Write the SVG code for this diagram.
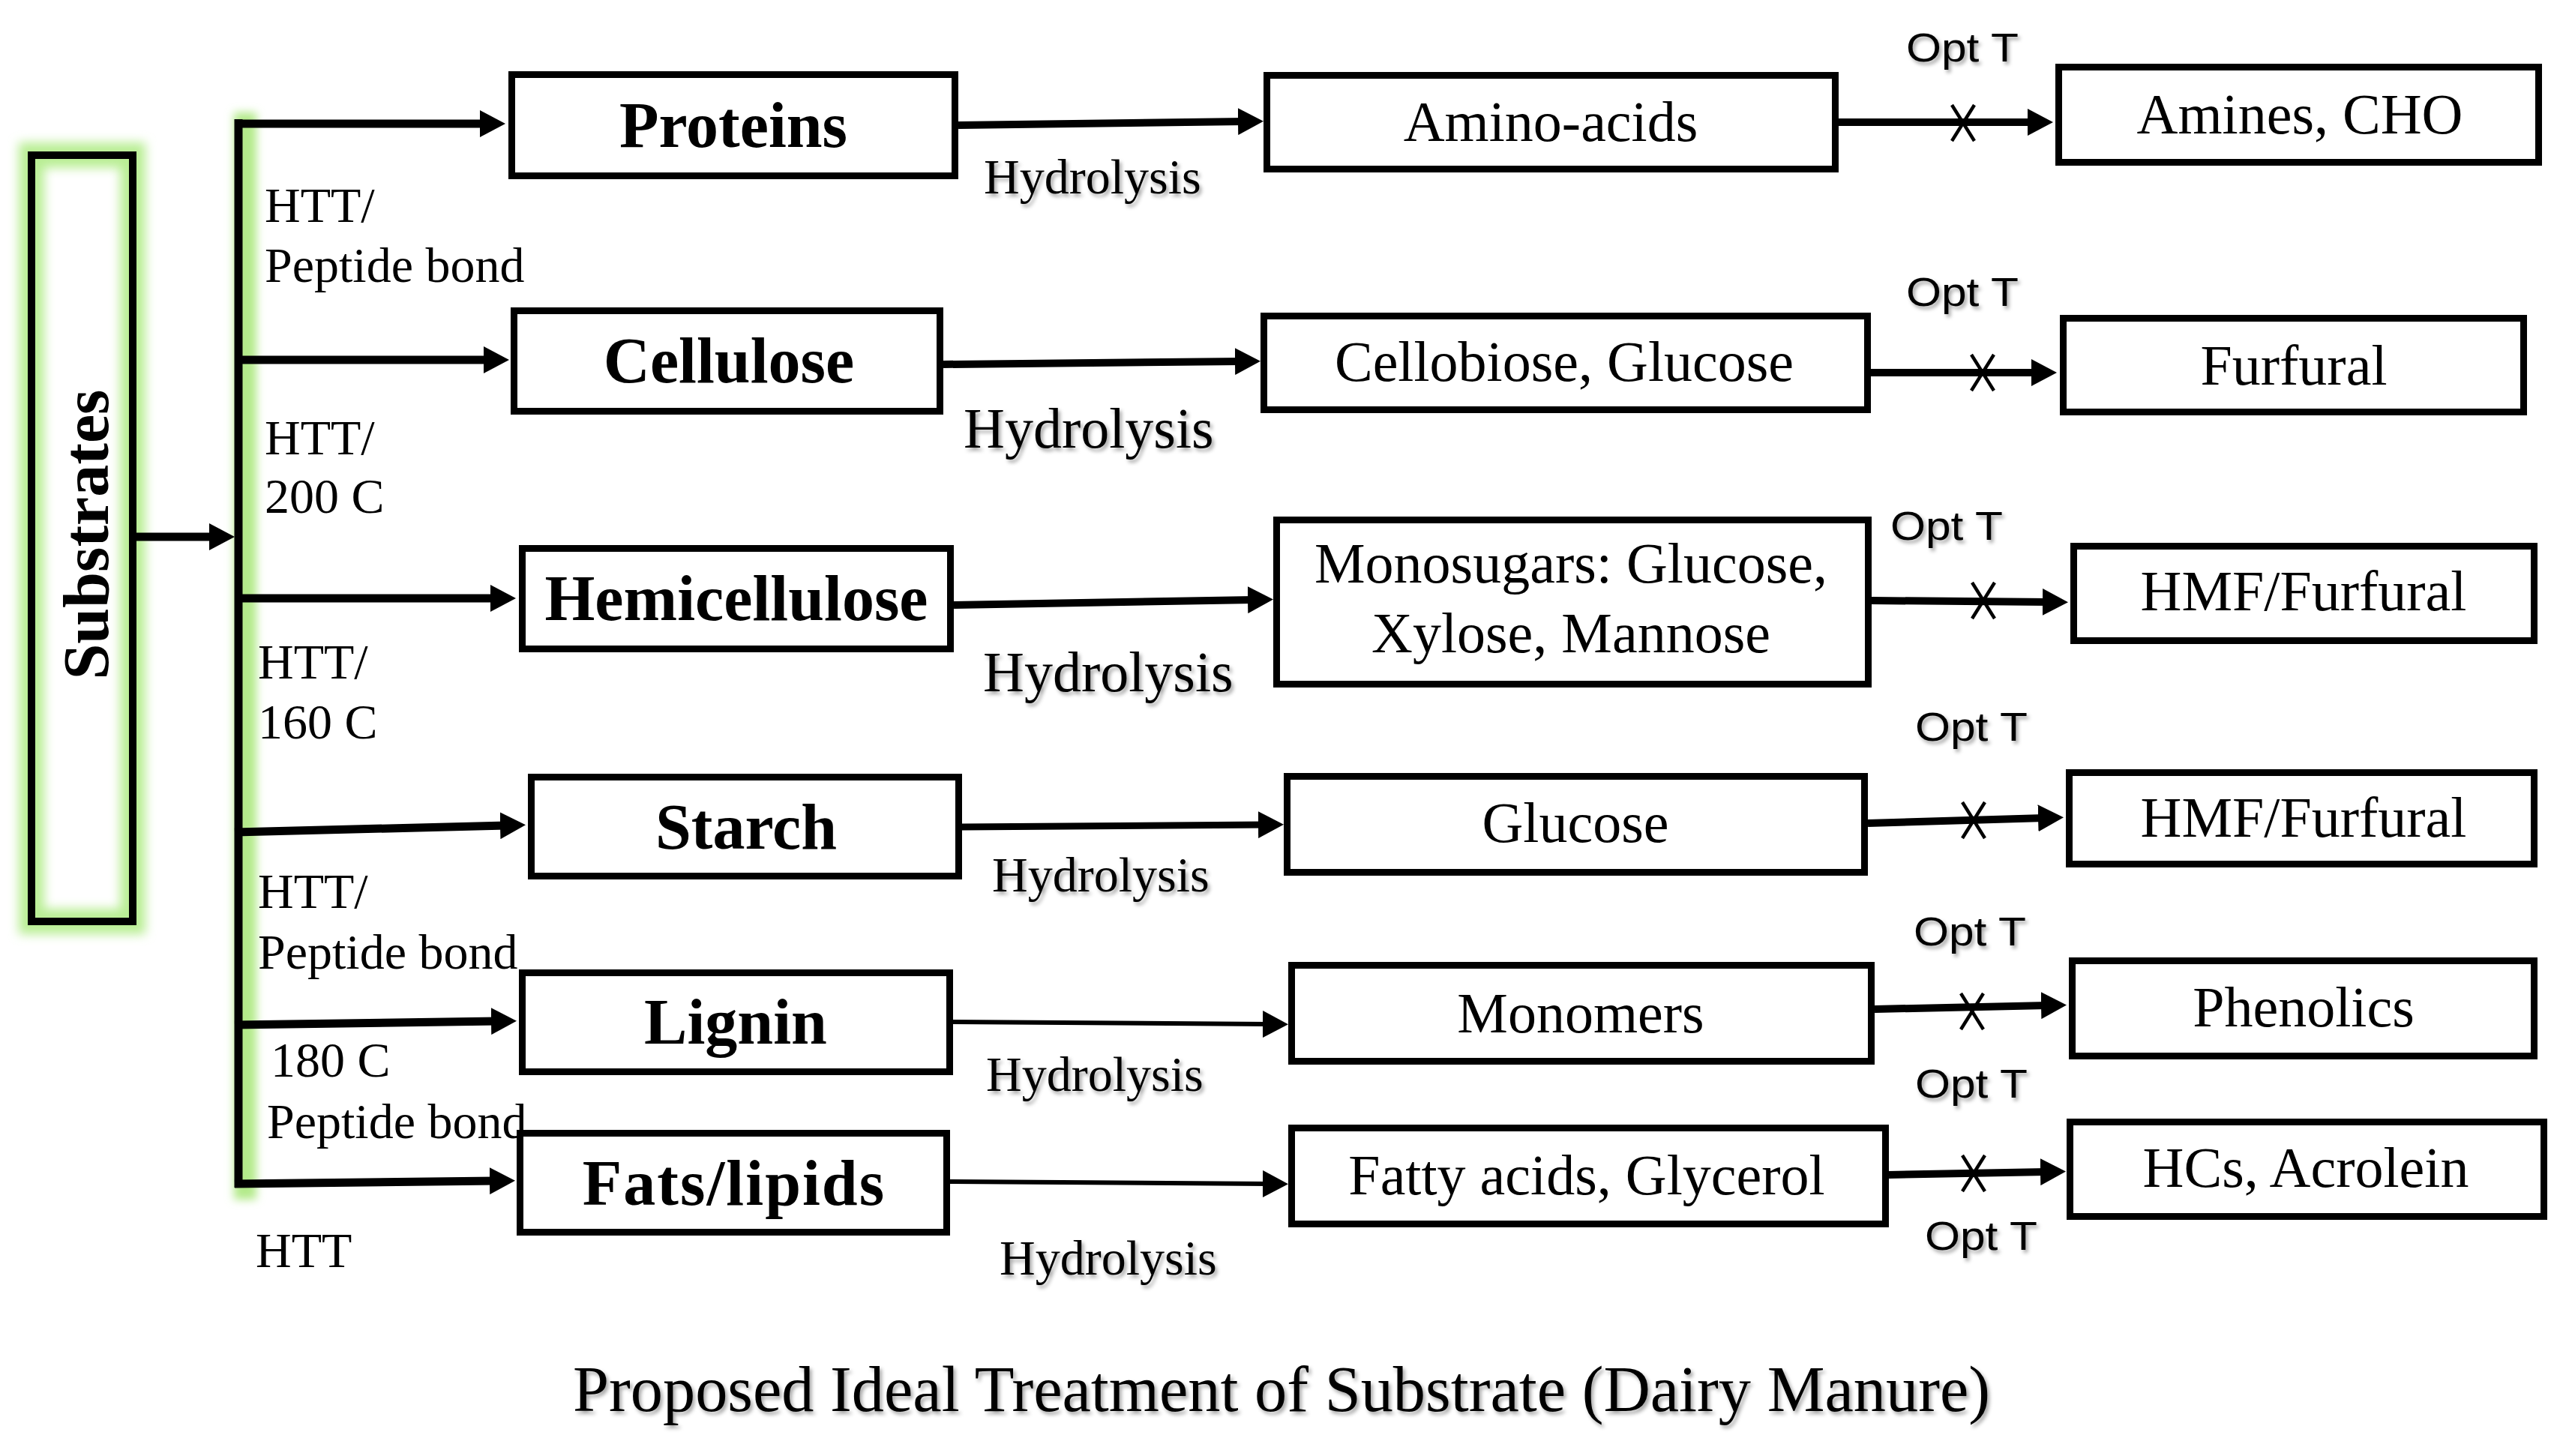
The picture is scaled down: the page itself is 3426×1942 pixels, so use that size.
<svg xmlns="http://www.w3.org/2000/svg" width="3426" height="1942" viewBox="0 0 3426 1942">
<style>
.box{fill:#fff;stroke:#000;stroke-width:9;stroke-linejoin:miter}
.sub{font-family:"Liberation Serif","Times New Roman",serif;font-weight:bold;font-size:86px;text-anchor:middle;fill:#000}
.mid{font-family:"Liberation Serif","Times New Roman",serif;font-size:76px;text-anchor:middle;fill:#000}
.lab{font-family:"Liberation Serif","Times New Roman",serif;font-size:66px;fill:#000}
.hyd{font-family:"Liberation Serif","Times New Roman",serif;fill:#000;filter:url(#sh)}
.opt{font-family:"Liberation Sans",Arial,sans-serif;font-size:54px;fill:#000;filter:url(#sh)}
.ln{stroke:#000;fill:none;marker-end:url(#ah)}
.xm{stroke:#000;stroke-width:4.5;fill:none}
</style>
<defs>
<marker id="ah" markerUnits="userSpaceOnUse" markerWidth="34" markerHeight="36" refX="8" refY="18" orient="auto" viewBox="0 0 34 36">
<path d="M0,0 L34,18 L0,36 z" fill="#000"/>
</marker>
<filter id="sh" x="-10%" y="-30%" width="130%" height="170%">
<feDropShadow dx="3" dy="4" stdDeviation="2.5" flood-color="#000" flood-opacity="0.35"/>
</filter>
<filter id="glow" x="-60%" y="-10%" width="220%" height="120%">
<feGaussianBlur stdDeviation="7"/>
</filter>
<filter id="glow2" filterUnits="userSpaceOnUse" x="260" y="120" width="140" height="1510">
<feGaussianBlur stdDeviation="6"/>
</filter>
</defs>
<rect width="3426" height="1942" fill="#fff"/>

<g id="substrates">
<rect x="42" y="207" width="135" height="1022" fill="none" stroke="#b9ee94" stroke-width="34" filter="url(#glow)"/>
<rect x="42" y="207" width="135" height="1022" fill="none" stroke="#000" stroke-width="10"/>
<text class="sub" font-size="88" transform="translate(144,713) rotate(-90)" x="0" y="0">Substrates</text>
</g>

<g id="connectors">
<rect x="312" y="150" width="30" height="1450" fill="#b3ea8a" filter="url(#glow2)"/>
<line x1="318" y1="159" x2="318" y2="1584" stroke="#000" stroke-width="11"/>
<line class="ln" x1="182" y1="716" x2="287" y2="716" stroke-width="11"/>
<line class="ln" x1="313" y1="165" x2="648" y2="165" stroke-width="11"/>
<line class="ln" x1="313" y1="480" x2="653" y2="480" stroke-width="11"/>
<line class="ln" x1="313" y1="798" x2="662" y2="798" stroke-width="11"/>
<line class="ln" x1="313" y1="1110" x2="675" y2="1101" stroke-width="11"/>
<line class="ln" x1="313" y1="1367" x2="663" y2="1362" stroke-width="11"/>
<line class="ln" x1="313" y1="1579" x2="661" y2="1575" stroke-width="11"/>

<line class="ln" x1="1278" y1="167" x2="1659" y2="162" stroke-width="10"/>
<line class="ln" x1="1258" y1="486" x2="1655" y2="482" stroke-width="10"/>
<line class="ln" x1="1272" y1="807" x2="1672" y2="800" stroke-width="10"/>
<line class="ln" x1="1283" y1="1103" x2="1686" y2="1100" stroke-width="9"/>
<line class="ln" x1="1271" y1="1363" x2="1692" y2="1366" stroke-width="6"/>
<line class="ln" x1="1267" y1="1576" x2="1692" y2="1579" stroke-width="6"/>

<line class="ln" x1="2452" y1="163" x2="2712" y2="163" stroke-width="10"/>
<line class="ln" x1="2495" y1="497" x2="2717" y2="497" stroke-width="10"/>
<line class="ln" x1="2496" y1="801" x2="2732" y2="803" stroke-width="10"/>
<line class="ln" x1="2491" y1="1098" x2="2726" y2="1091" stroke-width="10"/>
<line class="ln" x1="2500" y1="1346" x2="2730" y2="1341" stroke-width="10"/>
<line class="ln" x1="2519" y1="1567" x2="2729" y2="1563" stroke-width="10"/>

<path class="xm" d="M2603,140 L2633,188 M2633,140 L2603,188"/>
<path class="xm" d="M2629,473 L2659,521 M2659,473 L2629,521"/>
<path class="xm" d="M2630,777 L2660,825 M2660,777 L2630,825"/>
<path class="xm" d="M2617,1070 L2647,1118 M2647,1070 L2617,1118"/>
<path class="xm" d="M2615,1325 L2645,1373 M2645,1325 L2615,1373"/>
<path class="xm" d="M2617,1541 L2647,1589 M2647,1541 L2617,1589"/>
</g>

<g id="labels">
<text class="lab" x="353" y="296">HTT/</text>
<text class="lab" x="353" y="376">Peptide bond</text>
<text class="lab" x="353" y="606">HTT/</text>
<text class="lab" x="353" y="684">200 C</text>
<text class="lab" x="344" y="905">HTT/</text>
<text class="lab" x="344" y="985">160 C</text>
<text class="lab" x="344" y="1211">HTT/</text>
<text class="lab" x="344" y="1292">Peptide bond</text>
<text class="lab" x="361" y="1436">180 C</text>
<text class="lab" x="356" y="1518">Peptide bond</text>
<text class="lab" x="341" y="1690">HTT</text>

<text class="hyd" x="1312" y="258" font-size="66">Hydrolysis</text>
<text class="hyd" x="1285" y="597" font-size="76">Hydrolysis</text>
<text class="hyd" x="1311" y="922" font-size="76">Hydrolysis</text>
<text class="hyd" x="1323" y="1189" font-size="66">Hydrolysis</text>
<text class="hyd" x="1315" y="1455" font-size="66">Hydrolysis</text>
<text class="hyd" x="1333" y="1700" font-size="66">Hydrolysis</text>

<text class="opt" x="2542" y="82" textLength="150" lengthAdjust="spacingAndGlyphs">Opt T</text>
<text class="opt" x="2542" y="408" textLength="150" lengthAdjust="spacingAndGlyphs">Opt T</text>
<text class="opt" x="2521" y="720" textLength="150" lengthAdjust="spacingAndGlyphs">Opt T</text>
<text class="opt" x="2554" y="988" textLength="150" lengthAdjust="spacingAndGlyphs">Opt T</text>
<text class="opt" x="2552" y="1261" textLength="150" lengthAdjust="spacingAndGlyphs">Opt T</text>
<text class="opt" x="2554" y="1464" textLength="150" lengthAdjust="spacingAndGlyphs">Opt T</text>
<text class="opt" x="2567" y="1667" textLength="150" lengthAdjust="spacingAndGlyphs">Opt T</text>
</g>

<g id="proteins"><rect class="box" x="682.5" y="99.5" width="591" height="135"/><text class="sub" x="978" y="196">Proteins</text></g>
<g id="cellulose"><rect class="box" x="685.5" y="414.5" width="568" height="134"/><text class="sub" x="972" y="510">Cellulose</text></g>
<g id="hemicellulose"><rect class="box" x="696.5" y="731.5" width="571" height="134"/><text class="sub" x="982" y="827">Hemicellulose</text></g>
<g id="starch"><rect class="box" x="708.5" y="1036.5" width="570" height="132"/><text class="sub" x="995" y="1132">Starch</text></g>
<g id="lignin"><rect class="box" x="696.5" y="1297.5" width="570" height="132"/><text class="sub" x="981" y="1392">Lignin</text></g>
<g id="fats"><rect class="box" x="693.5" y="1511.5" width="569" height="132"/><text class="sub" x="979" y="1607" letter-spacing="2">Fats/lipids</text></g>

<g id="amino"><rect class="box" x="1689.5" y="100.5" width="758" height="125"/><text class="mid" x="2068" y="188">Amino-acids</text></g>
<g id="cellobiose"><rect class="box" x="1685.5" y="421.5" width="805" height="125"/><text class="mid" x="2086" y="508">Cellobiose, Glucose</text></g>
<g id="monosugars"><rect class="box" x="1702.5" y="693.5" width="789" height="219"/><text class="mid" x="2095" y="777">Monosugars: Glucose,</text><text class="mid" x="2095" y="870">Xylose, Mannose</text></g>
<g id="glucose"><rect class="box" x="1716.5" y="1035.5" width="770" height="128"/><text class="mid" x="2101" y="1123">Glucose</text></g>
<g id="monomers"><rect class="box" x="1722.5" y="1287.5" width="773" height="128"/><text class="mid" x="2108" y="1377">Monomers</text></g>
<g id="fattyacids"><rect class="box" x="1722.5" y="1504.5" width="792" height="128"/><text class="mid" x="2116" y="1593">Fatty acids, Glycerol</text></g>

<g id="amines"><rect class="box" x="2745.5" y="89.5" width="640" height="127"/><text class="mid" x="3067" y="178">Amines, CHO</text></g>
<g id="furfural"><rect class="box" x="2751.5" y="424.5" width="614" height="125"/><text class="mid" x="3059" y="513">Furfural</text></g>
<g id="hmf1"><rect class="box" x="2765.5" y="728.5" width="614" height="126"/><text class="mid" x="3072" y="814">HMF/Furfural</text></g>
<g id="hmf2"><rect class="box" x="2759.5" y="1030.5" width="620" height="122"/><text class="mid" x="3072" y="1116">HMF/Furfural</text></g>
<g id="phenolics"><rect class="box" x="2763.5" y="1281.5" width="616" height="127"/><text class="mid" x="3072" y="1369">Phenolics</text></g>
<g id="hcs"><rect class="box" x="2760.5" y="1496.5" width="632" height="126"/><text class="mid" x="3075" y="1583">HCs, Acrolein</text></g>

<g id="title">
<text class="hyd" x="764" y="1882" font-size="86" textLength="1890" lengthAdjust="spacingAndGlyphs">Proposed Ideal Treatment of Substrate (Dairy Manure)</text>
</g>
</svg>
